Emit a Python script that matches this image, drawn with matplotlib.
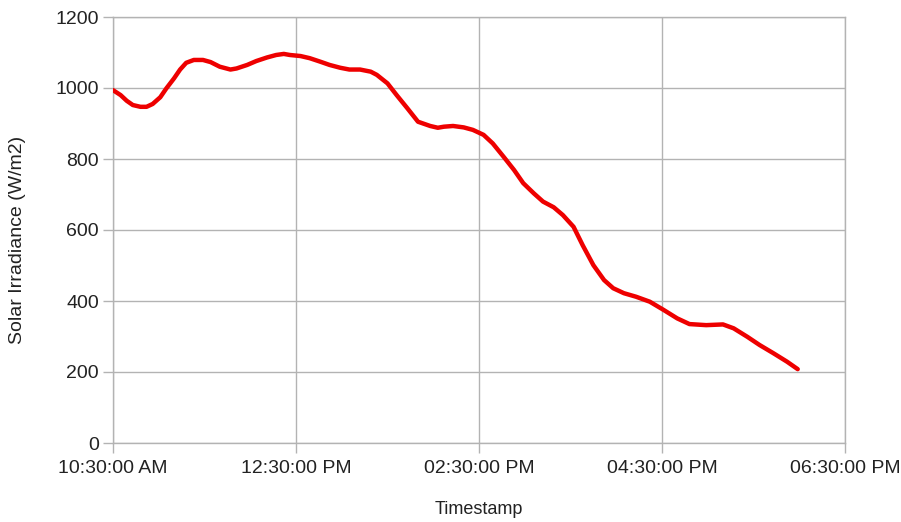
import matplotlib
matplotlib.use("Agg")
import matplotlib.pyplot as plt

# minutes after 10:30 AM
minutes = [0, 5, 9, 13, 18, 22, 26, 31, 35, 40, 44, 48, 53, 59, 64, 70, 77, 81,
           88, 94, 101, 107, 112, 116, 123, 129, 136, 142, 149, 155, 162, 169,
           173, 180, 186, 193, 200, 204, 208, 213, 217, 223, 230, 236, 243, 249,
           256, 263, 269, 276, 282, 289, 295, 302, 308, 315, 322, 328, 335, 343,
           352, 361, 370, 378, 389, 400, 407, 416, 424, 433, 442, 449]
irradiance = [994, 980, 964, 952, 947, 947, 955, 974, 999, 1027, 1052, 1071,
              1079, 1079, 1073, 1060, 1052, 1055, 1065, 1076, 1086, 1093, 1096,
              1093, 1090, 1084, 1074, 1065, 1057, 1052, 1052, 1046, 1037, 1013,
              980, 943, 905, 899, 893, 888, 891, 893, 889, 882, 868, 844, 807,
              769, 732, 703, 680, 664, 642, 609, 557, 501, 459, 436, 422, 412,
              398, 375, 351, 335, 332, 334, 323, 299, 276, 253, 229, 208]
tick_minutes = [0, 120, 240, 360, 480]
tick_labels = ["10:30:00 AM", "12:30:00 PM", "02:30:00 PM", "04:30:00 PM", "06:30:00 PM"]
y_ticks = [0, 200, 400, 600, 800, 1000, 1200]

plt.rcParams['font.family'] = ['Liberation Sans', 'DejaVu Sans']

fig = plt.figure(figsize=(9.01, 5.22), dpi=100)
ax = fig.add_axes([113/901, 1-443/522, (845-113)/901, (443-17)/522])

ax.plot(minutes, irradiance, color='#ee0000', linewidth=3.2, solid_capstyle='round',
        solid_joinstyle='round', zorder=3)

ax.set_xlim(0, 480)
ax.set_ylim(0, 1200)
ax.set_xticks(tick_minutes)
ax.set_xticklabels(tick_labels)
ax.set_yticks(y_ticks)
ax.grid(True, color='#b3b3b3', linewidth=1)
for s in ['top', 'right', 'left', 'bottom']:
    ax.spines[s].set_color('#b3b3b3')
    ax.spines[s].set_linewidth(1)
ax.tick_params(axis='both', colors='#b3b3b3', length=7, width=1, labelcolor='#222222',
               labelsize=14)
ax.tick_params(axis='y', pad=3)
ax.tick_params(axis='x', pad=5)
ax.set_ylabel("Solar Irradiance (W/m2)", fontsize=14, color='#222222')
ax.set_xlabel("Timestamp", fontsize=13, color='#222222')
ax.yaxis.set_label_coords((18 - 113) / 732, (443 - 240) / 426)
ax.xaxis.set_label_coords(0.5, (443 - 509) / 426)
ax.yaxis.label.set_va('center')
ax.xaxis.label.set_va('center')

fig.savefig("out.png", dpi=100, facecolor='white')
